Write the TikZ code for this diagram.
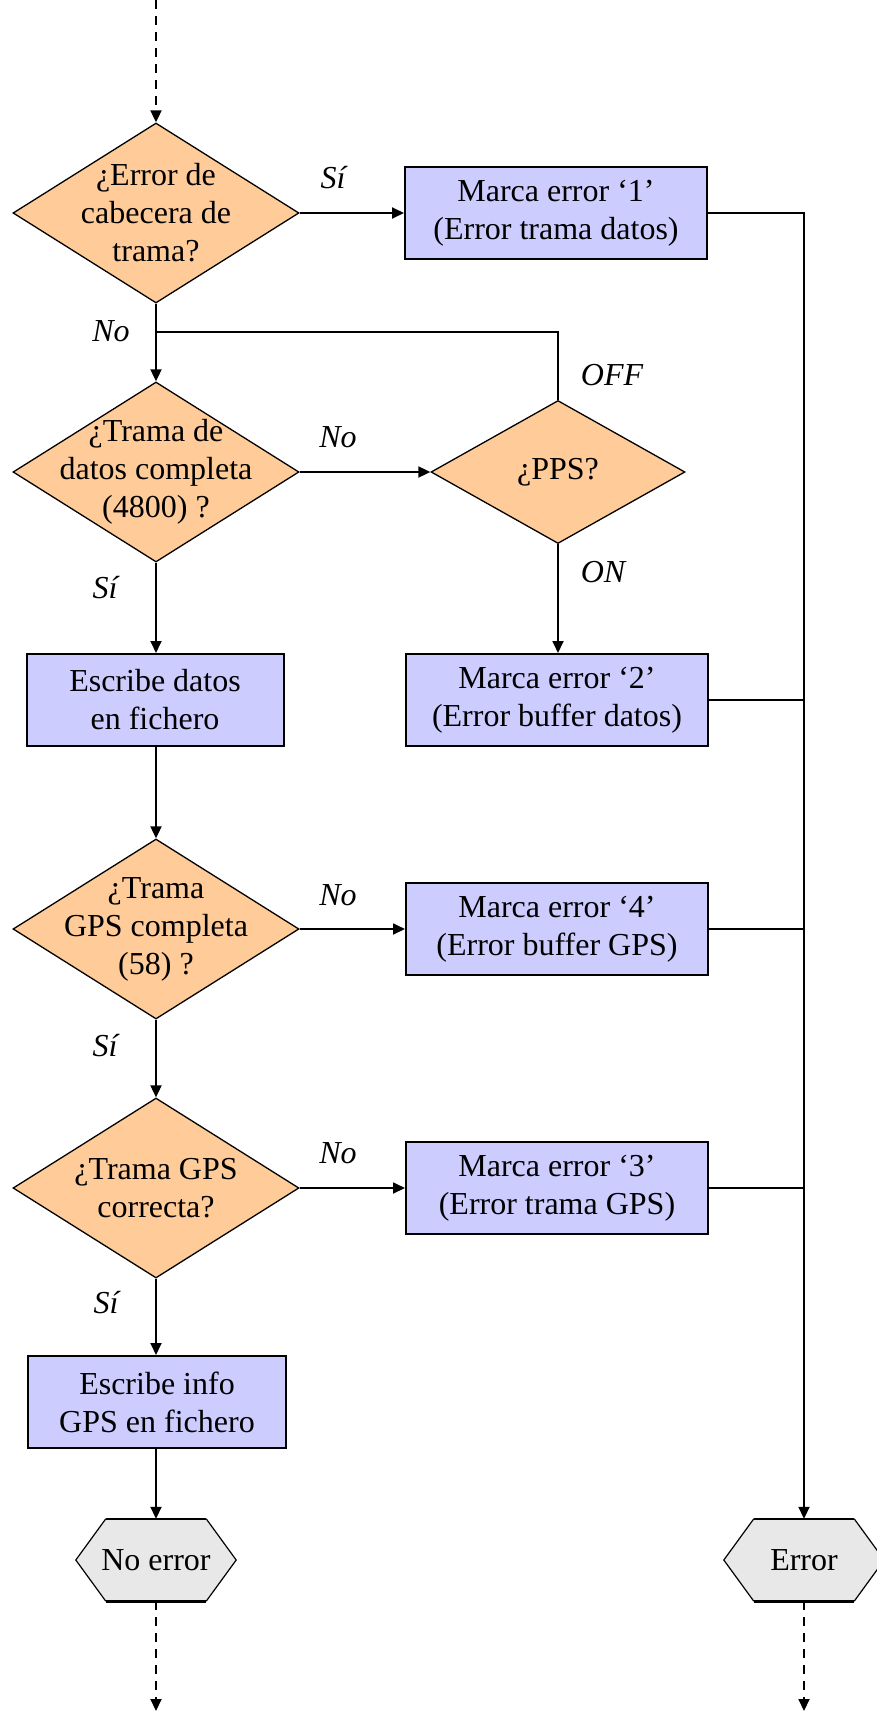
\documentclass[tikz,border=0pt]{standalone}
\usepackage{fontspec}
\setmainfont{Liberation Serif}
\usetikzlibrary{shapes.geometric,arrows.meta,backgrounds}
\definecolor{dfill}{HTML}{FFCC99}
\definecolor{bfill}{HTML}{CCCCFF}
\definecolor{hfill}{HTML}{E8E8E8}
\begin{document}
\begin{tikzpicture}[x=1pt,y=-1pt,
 every node/.style={font=\fontsize{32}{38}\selectfont},
 proc/.style={draw, line width=2pt, fill=bfill, minimum width=302pt, minimum height=92pt, align=center, inner sep=0pt},
 dec/.style={diamond, draw, line width=1.3pt, fill=dfill, minimum width=286pt, minimum height=180pt, inner sep=0pt},
 dtext/.style={align=center, inner sep=0pt},
 lbl/.style={font=\fontsize{32}{38}\selectfont\itshape, inner sep=0pt},
 conn/.style={line width=1.8pt},
 arr/.style={conn, -{Triangle[length=12pt,width=11pt]}},
 darr/.style={arr, dash pattern=on 9pt off 7pt},
 term/.style={minimum width=160pt, minimum height=82pt, inner sep=0pt}]
\useasboundingbox (0,0) rectangle (877,1713);

% decisions
\node[dec] (d1) at (156,213) {};
\node[dtext] (t1) at (d1.center) {¿Error de\\cabecera de\\trama?};
\node[dec] (d2) at (156,472) {};
\node[dtext] (t2) at (d2.center) {¿Trama de\\datos completa\\(4800) ?};
\node[diamond, draw, line width=1.3pt, fill=dfill, minimum width=254pt, minimum height=143pt, inner sep=0pt] (pps) at (558,472) {¿PPS?};
\node[dec] (d3) at (156,929) {};
\node[dtext] (t3) at (d3.center) {¿Trama\\GPS completa\\(58) ?};
\node[dec] (d4) at (156,1188) {};
\node[dtext] (t4) at (d4.center) {¿Trama GPS\\correcta?};

% processes
\node[proc] (b1) at (556,213) {Marca error ‘1’\\(Error trama datos)};
\node[proc] (b2) at (557,700) {Marca error ‘2’\\(Error buffer datos)};
\node[proc, minimum width=257pt] (w1) at (155,700) {Escribe datos\\en fichero};
\node[proc] (b4) at (557,929) {Marca error ‘4’\\(Error buffer GPS)};
\node[proc] (b3) at (557,1188) {Marca error ‘3’\\(Error trama GPS)};
\node[proc, minimum width=258pt] (w2) at (157,1402) {Escribe info\\GPS en fichero};

% terminals
\node[term] (ne) at (156,1560) {No error};
\node[term] (er) at (804,1560) {Error};
\begin{scope}[on background layer]
\foreach \n in {ne,er}{
  \fill[hfill] (\n.west) -- ([xshift=30pt]\n.north west) -- ([xshift=-30pt]\n.north east) -- (\n.east) -- ([xshift=-30pt]\n.south east) -- ([xshift=30pt]\n.south west) -- cycle;
  \draw[line width=1.2pt] ([xshift=30pt]\n.north west) -- (\n.west) -- ([xshift=30pt]\n.south west);
  \draw[line width=1.2pt] ([xshift=-30pt]\n.north east) -- (\n.east) -- ([xshift=-30pt]\n.south east);
  \draw[line width=2.6pt] ([xshift=30pt]\n.north west) -- ([xshift=-30pt]\n.north east);
  \draw[line width=2.6pt] ([xshift=30pt]\n.south west) -- ([xshift=-30pt]\n.south east);
}
\end{scope}

% coordinates
\coordinate (top) at (156,0);
\coordinate (bl) at (156,1711);
\coordinate (br) at (804,1711);
\coordinate (j1) at (156,332);

% connectors
\draw[darr] (top) -- (d1.north);
\draw[arr] (d1.east) -- (b1.west);
\draw[arr] (d1.south) -- (d2.north);
\draw[conn] (pps.north) |- (j1);
\draw[arr] (d2.east) -- (pps.west);
\draw[arr] (pps.south) -- (pps.south |- b2.north);
\draw[arr] (d2.south) -- (d2.south |- w1.north);
\draw[arr] (w1.south) -- (w1.south -| d3.north) -- (d3.north);
\draw[arr] (d3.east) -- (b4.west);
\draw[arr] (d3.south) -- (d4.north);
\draw[arr] (d4.east) -- (b3.west);
\draw[arr] (d4.south) -- (d4.south |- w2.north);
\draw[arr] (w2.south -| ne.north) -- (ne.north);
\draw[arr] (b1.east) -| (er.north);
\draw[conn] (b2.east) -- (b2.east -| er.north);
\draw[conn] (b4.east) -- (b4.east -| er.north);
\draw[conn] (b3.east) -- (b3.east -| er.north);
\draw[darr] (ne.south) -- (bl);
\draw[darr] (er.south) -- (br);

% labels
\node[lbl] (l1) at (333,178) {Sí};
\node[lbl] (l2) at (111,331) {No};
\node[lbl] (l3) at (612,375) {OFF};
\node[lbl] (l4) at (338,437) {No};
\node[lbl] (l5) at (603,572) {ON};
\node[lbl] (l6) at (105,588) {Sí};
\node[lbl] (l7) at (338,895) {No};
\node[lbl] (l8) at (105,1046) {Sí};
\node[lbl] (l9) at (338,1153) {No};
\node[lbl] (l10) at (106,1303) {Sí};
\end{tikzpicture}
\end{document}
